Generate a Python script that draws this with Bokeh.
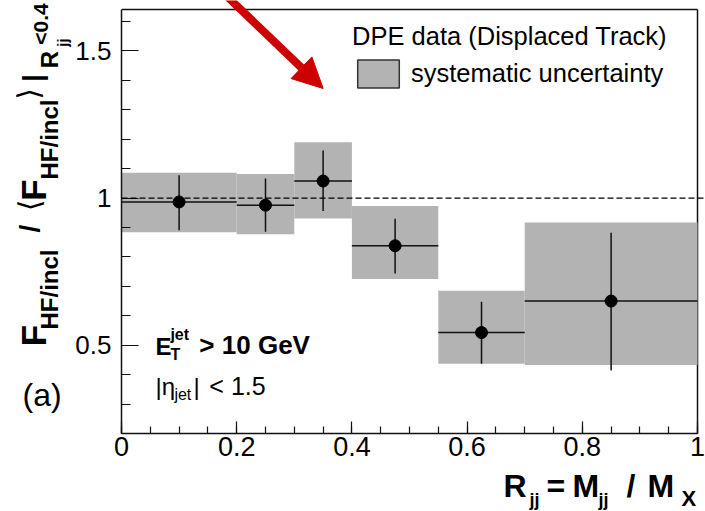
import math
from bokeh.plotting import figure
from bokeh.layouts import row, column
from bokeh.models import (Range1d, FixedTicker, Label, Arrow, NormalHead,
                          Legend, LegendItem, ColumnDataSource, Span)
from bokeh.embed import file_html
from bokeh.resources import INLINE

# ---------------- data ----------------
bin_lo = [0.0, 0.2, 0.3, 0.4, 0.55, 0.7]
bin_hi = [0.2, 0.3, 0.4, 0.55, 0.7, 1.0]
x_center = [0.1, 0.25, 0.35, 0.475, 0.625, 0.85]
ratio = [0.987, 0.976, 1.058, 0.838, 0.543, 0.650]
stat_low = [0.891, 0.886, 0.956, 0.744, 0.437, 0.414]
stat_high = [1.078, 1.067, 1.162, 0.930, 0.648, 0.882]
sys_low = [0.884, 0.877, 0.931, 0.725, 0.437, 0.433]
sys_high = [1.086, 1.082, 1.190, 0.973, 0.685, 0.917]
x_ticks = [0.0, 0.2, 0.4, 0.6, 0.8, 1.0]
x_tick_labels = ["0", "0.2", "0.4", "0.6", "0.8", "1"]
x_minor = [i * 0.05 for i in range(21)]
y_ticks = [0.5, 1.0, 1.5]
y_tick_labels = ["0.5", "1", "1.5"]
y_minor = [0.2 + i * 0.1 for i in range(15)]
reference_level = 1.0
x_axis_limits = (0.0, 1.0)
y_axis_limits = (0.2, 1.641)

FONT = "Liberation Sans"
GRAY = "#b3b3b3"
RED = "#cc0000"
INK = "#111111"

# page geometry (pixels)
W, H = 705, 511
LEFT_STRIP = 72          # width of the strip holding the y title
BOTTOM_STRIP = 44        # height of the strip holding the x title
L, R, B = 120, 697, 433  # plot area: x of 0 / x of 1 / y of 0.2
T = 9                    # y pixel of the frame top edge
PX_PER_Y = (B - T) / (y_axis_limits[1] - y_axis_limits[0])
PX_PER_X = (R - L) / (x_axis_limits[1] - x_axis_limits[0])


def px2x(px):
    return x_axis_limits[0] + (px - L) / PX_PER_X


def px2y(py):
    return y_axis_limits[0] + (B - py) / PX_PER_Y


# ---------------- main plot ----------------
main_h = H - BOTTOM_STRIP
p = figure(width=W - LEFT_STRIP, height=main_h, output_backend="svg",
           toolbar_location=None,
           x_range=Range1d(x_axis_limits[0], px2x(W)),
           y_range=Range1d(y_axis_limits[0], px2y(0)),
           min_border_left=L - LEFT_STRIP, min_border_right=0,
           min_border_top=0, min_border_bottom=main_h - B)
p.grid.visible = False
p.outline_line_color = None
p.background_fill_color = "white"
p.border_fill_color = "white"

p.xaxis.ticker = FixedTicker(ticks=x_ticks, minor_ticks=x_minor)
p.xaxis.major_label_overrides = {t: s for t, s in zip(x_ticks, x_tick_labels)}
p.yaxis.ticker = FixedTicker(ticks=y_ticks, minor_ticks=y_minor)
p.yaxis.major_label_overrides = {t: s for t, s in zip(y_ticks, y_tick_labels)}
p.xaxis.bounds = x_axis_limits
p.yaxis.bounds = y_axis_limits
for ax in (p.xaxis, p.yaxis):
    ax.axis_line_color = INK
    ax.axis_line_width = 1.5
    ax.major_tick_line_color = INK
    ax.minor_tick_line_color = INK
    ax.major_tick_line_width = 1.2
    ax.minor_tick_line_width = 1.2
    ax.major_tick_out = 0
    ax.minor_tick_out = 0
    ax.major_label_text_font = FONT
    ax.major_label_text_color = "black"
p.xaxis.major_tick_in = 12
p.xaxis.minor_tick_in = 7
p.yaxis.major_tick_in = 17
p.yaxis.minor_tick_in = 9
p.xaxis.major_label_text_font_size = "27px"
p.yaxis.major_label_text_font_size = "26px"
p.xaxis.major_label_standoff = 3
p.yaxis.major_label_standoff = 10

# closing frame edges (top and right)
p.segment(x0=[x_axis_limits[0], x_axis_limits[1]], x1=[x_axis_limits[1], x_axis_limits[1]],
          y0=[y_axis_limits[1], y_axis_limits[0]], y1=[y_axis_limits[1], y_axis_limits[1]],
          line_color=INK, line_width=1.5)

src = ColumnDataSource(dict(lo=bin_lo, hi=bin_hi, xc=x_center, y=ratio,
                            slo=stat_low, shi=stat_high,
                            ylo=sys_low, yhi=sys_high))

p.quad(left="lo", right="hi", bottom="ylo", top="yhi", source=src,
       fill_color=GRAY, line_color=None)

p.add_layout(Span(location=reference_level, dimension="width",
                  line_color="black", line_width=1.2, line_dash="6 3"))

p.segment(x0="lo", x1="hi", y0="y", y1="y", source=src, line_color=INK, line_width=1.5)
p.segment(x0="xc", x1="xc", y0="slo", y1="shi", source=src, line_color=INK, line_width=1.5)
p.scatter(x="xc", y="y", source=src, size=12, fill_color="black", line_color="black")

# legend (swatch renderer holds no visible data)
nan = float("nan")
r_leg = p.quad(left=[nan], right=[nan], bottom=[nan], top=[nan], fill_color=GRAY,
               line_color="#333333", line_width=1.5)
legend = Legend(items=[LegendItem(label="systematic uncertainty", renderers=[r_leg])],
                title="DPE data (Displaced Track)",
                location=(351 - L, B - 91),
                title_text_font=FONT, title_text_font_size="25.5px",
                title_text_font_style="normal", title_text_color="black",
                title_standoff=5,
                label_text_font=FONT, label_text_font_size="25.5px",
                label_text_color="black",
                glyph_width=52, glyph_height=35, label_standoff=7,
                padding=0, spacing=0, margin=0,
                border_line_alpha=0, background_fill_alpha=0)
p.add_layout(legend)


def lab(fig, text, x, y, size, bold=False, angle=0.0, font=FONT, align="left"):
    fig.add_layout(Label(x=x, y=y, text=text, text_font=font,
                         text_font_size=f"{size}px",
                         text_font_style="bold" if bold else "normal",
                         text_color="black", text_align=align,
                         text_baseline="middle", angle=angle))


def hlab(fig, text, x_start, baseline, size, bold=False, conv=None):
    # horizontal text: left edge at x_start, alphabetic baseline at `baseline`
    y_mid = baseline - 0.35 * size
    if conv is not None:
        lab(fig, text, px2x(x_start), px2y(y_mid), size, bold)
    else:
        lab(fig, text, x_start, y_mid, size, bold)


hlab(p, "E", 154, 354, 24, True, conv=True)
hlab(p, "jet", 169, 340, 16, True, conv=True)
hlab(p, "T", 169, 360, 16, True, conv=True)
hlab(p, "> 10 GeV", 198, 354, 26, True, conv=True)
hlab(p, "|\u03b7", 154, 394, 24, False, conv=True)
hlab(p, "jet", 173, 400, 16, False, conv=True)
hlab(p, "|", 192, 394, 24, False, conv=True)
hlab(p, "< 1.5", 208, 394, 25, False, conv=True)

arrow_start = (224.8, -5)
arrow_tip = (322, 88)
p.add_layout(Arrow(end=NormalHead(size=30, fill_color=RED, line_color=RED, line_width=1),
                   x_start=px2x(arrow_start[0]), y_start=px2y(arrow_start[1]),
                   x_end=px2x(arrow_tip[0]), y_end=px2y(arrow_tip[1]),
                   line_color=RED, line_width=8))


def strip(width, height, x0, y0, frame_h, border_bottom):
    f = figure(width=width, height=height, output_backend="svg", toolbar_location=None,
               x_range=Range1d(x0, x0 + width), y_range=Range1d(y0 + frame_h, y0),
               x_axis_type=None, y_axis_type=None,
               min_border=0, min_border_left=0, min_border_right=0,
               min_border_top=0, min_border_bottom=border_bottom)
    f.grid.visible = False
    f.outline_line_color = None
    f.background_fill_color = "white"
    f.border_fill_color = "white"
    return f


# ---------------- y title strip (frame aligned with the main frame) ----------------
ly = strip(LEFT_STRIP, main_h, 0, 0, B, main_h - B)
A = math.pi / 2


def vlab(text, xc, yc, size, bold=True, font=FONT):
    lab(ly, text, xc, yc, size, bold, A, font, "center")


vlab("F", 32.5, 335, 35)
vlab("HF/incl", 48.5, 289, 24)
vlab("/", 28.5, 228, 28)
vlab("\u27e8", 29, 205, 30, False, "DejaVu Sans")
vlab("F", 32.5, 189.5, 35)
vlab("HF/incl", 48.5, 139, 24)
vlab("\u27e9", 28, 93.5, 30, False, "DejaVu Sans")
vlab("|", 32.5, 77.5, 27)
vlab("R", 49, 59, 24)
vlab("jj", 62, 42, 15)
vlab("<0.4", 40, 23.5, 21)
hlab(ly, "(a)", 22, 406, 32, False)

# ---------------- x title strip ----------------
bx = strip(W, BOTTOM_STRIP, 0, main_h, BOTTOM_STRIP, 0)
hlab(bx, "R", 503, 497, 32, True)
hlab(bx, "jj", 529, 506, 18, True)
hlab(bx, "=", 546, 497, 32, True)
hlab(bx, "M", 572, 497, 32, True)
hlab(bx, "jj", 598, 506, 18, True)
hlab(bx, "/", 626, 497, 32, True)
hlab(bx, "M", 647, 497, 32, True)
hlab(bx, "X", 681, 506, 22, True)

page = column(row(ly, p, spacing=0), bx, spacing=0)
open("out.html", "w").write(file_html(page, INLINE))
